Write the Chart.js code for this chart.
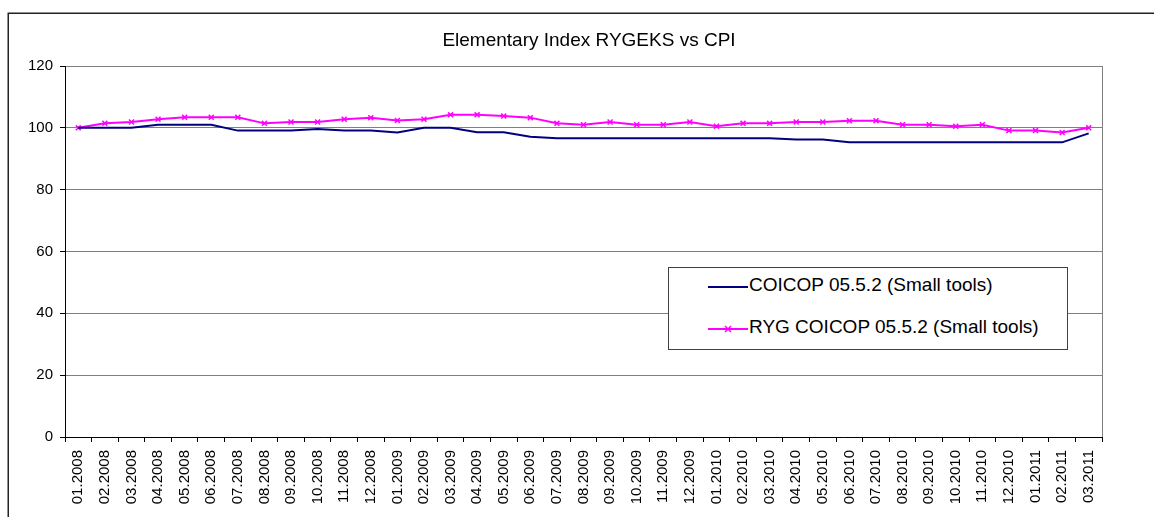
<!DOCTYPE html>
<html>
<head>
<meta charset="utf-8">
<title>Elementary Index RYGEKS vs CPI</title>
<script src="https://cdn.jsdelivr.net/npm/chart.js@4.4.1/dist/chart.umd.min.js"></script>
<style>
  body { margin: 0; background: #fff; font-family: "Liberation Sans", Arial, sans-serif; }
  #wrap { position: relative; width: 1154px; height: 517px; overflow: hidden; }
  #legend {
    position: absolute; left: 668px; top: 267px; width: 400px; height: 83px;
    background: #fff; border: 1px solid #404040; box-sizing: border-box;
    font-size: 19px; color: #000;
  }
  #legend .row { position: absolute; left: 39px; height: 22px; display: flex; align-items: center; }
  #legend svg { margin-right: 1px; }
</style>
</head>
<body>
<div id="wrap">
  <canvas id="chart" width="1154" height="517"></canvas>
  <div id="legend">
    <div class="row" style="top:273px;top:6px;">
      <svg width="40" height="22"><line x1="0" y1="13" x2="40" y2="13" stroke="#000080" stroke-width="2"/></svg>
      <span>COICOP 05.5.2 (Small tools)</span>
    </div>
    <div class="row" style="top:48px;">
      <svg width="40" height="22"><line x1="0" y1="13" x2="40" y2="13" stroke="#ff00ff" stroke-width="2"/>
        <path d="M17 10 L23 16 M23 10 L17 16" stroke="#ff00ff" stroke-width="1.5"/></svg>
      <span>RYG COICOP 05.5.2 (Small tools)</span>
    </div>
  </div>
</div>
<script>
// months on the category axis
const months = ['01.2008','02.2008','03.2008','04.2008','05.2008','06.2008','07.2008','08.2008','09.2008','10.2008','11.2008','12.2008',
  '01.2009','02.2009','03.2009','04.2009','05.2009','06.2009','07.2009','08.2009','09.2009','10.2009','11.2009','12.2009',
  '01.2010','02.2010','03.2010','04.2010','05.2010','06.2010','07.2010','08.2010','09.2010','10.2010','11.2010','12.2010',
  '01.2011','02.2011','03.2011'];

// CPI COICOP 05.5.2
const coicop = [100, 100, 100, 101, 101, 101, 99.1, 99.1, 99.1, 99.6, 99.1, 99.1,
  98.5, 100, 100, 98.6, 98.6, 97.1, 96.6, 96.6, 96.6, 96.6, 96.6, 96.6,
  96.6, 96.6, 96.6, 96.2, 96.2, 95.3, 95.3, 95.3, 95.3, 95.3, 95.3, 95.3,
  95.3, 95.3, 98.2];

// RYGEKS elementary index
const ryg = [100, 101.45, 101.9, 102.8, 103.4, 103.4, 103.4, 101.45, 101.9, 101.9, 102.8, 103.3,
  102.4, 102.8, 104.2, 104.2, 103.8, 103.3, 101.45, 101.0, 101.9, 101.0, 101.0, 101.9,
  100.5, 101.45, 101.45, 101.9, 101.9, 102.3, 102.3, 101.0, 101.0, 100.5, 101.0, 99.1,
  99.1, 98.5, 100];

const yMin = 0, yMax = 120, yStep = 20;
const chartTitle = 'Elementary Index RYGEKS vs CPI';
const FONT = '"Liberation Sans", Arial, sans-serif';

// frame, title and right edge of the plot area
const decorations = {
  id: 'decorations',
  afterDraw(chart) {
    const { ctx, chartArea } = chart;
    ctx.save();
    ctx.strokeStyle = '#808080';
    ctx.lineWidth = 1;
    ctx.beginPath();
    ctx.moveTo(chartArea.right + 0.5, chartArea.top);
    ctx.lineTo(chartArea.right + 0.5, chartArea.bottom);
    ctx.stroke();

    ctx.strokeStyle = '#222';
    ctx.lineWidth = 1.5;
    ctx.beginPath();
    ctx.moveTo(8.25, 517);
    ctx.lineTo(8.25, 13.25);
    ctx.lineTo(1154, 13.25);
    ctx.stroke();

    ctx.fillStyle = '#000';
    ctx.font = '19px ' + FONT;
    ctx.textAlign = 'center';
    ctx.textBaseline = 'alphabetic';
    ctx.fillText(chartTitle, 589, 46);
    ctx.restore();
  }
};

new Chart(document.getElementById('chart'), {
  type: 'line',
  data: {
    labels: months,
    datasets: [{
      label: 'COICOP 05.5.2 (Small tools)',
      data: coicop,
      borderColor: '#000080',
      borderWidth: 2,
      pointRadius: 0,
      tension: 0
    }, {
      label: 'RYG COICOP 05.5.2 (Small tools)',
      data: ryg,
      borderColor: '#ff00ff',
      backgroundColor: '#ff00ff',
      borderWidth: 2,
      pointStyle: 'crossRot',
      pointRadius: 3.5,
      pointBorderWidth: 1.5,
      tension: 0
    }]
  },
  options: {
    responsive: false,
    animation: false,
    layout: { padding: { top: 66, right: 52, bottom: 0, left: 0 } },
    plugins: { legend: { display: false }, title: { display: false }, tooltip: { enabled: false } },
    scales: {
      x: {
        offset: true,
        border: { color: '#000', width: 1 },
        grid: { drawOnChartArea: false, offset: true, tickLength: 5, color: '#000' },
        ticks: { autoSkip: false, minRotation: 90, maxRotation: 90, padding: 8, color: '#000', font: { family: FONT, size: 15 } },
        afterFit(scale) { scale.height = 80; }
      },
      y: {
        min: yMin, max: yMax,
        border: { color: '#000', width: 1 },
        grid: { color: '#808080', tickColor: '#000', tickLength: 5 },
        ticks: { stepSize: yStep, padding: 7, color: '#000', font: { family: FONT, size: 15 } },
        afterFit(scale) { scale.width = 65; }
      }
    }
  },
  plugins: [decorations]
});
</script>
</body>
</html>
